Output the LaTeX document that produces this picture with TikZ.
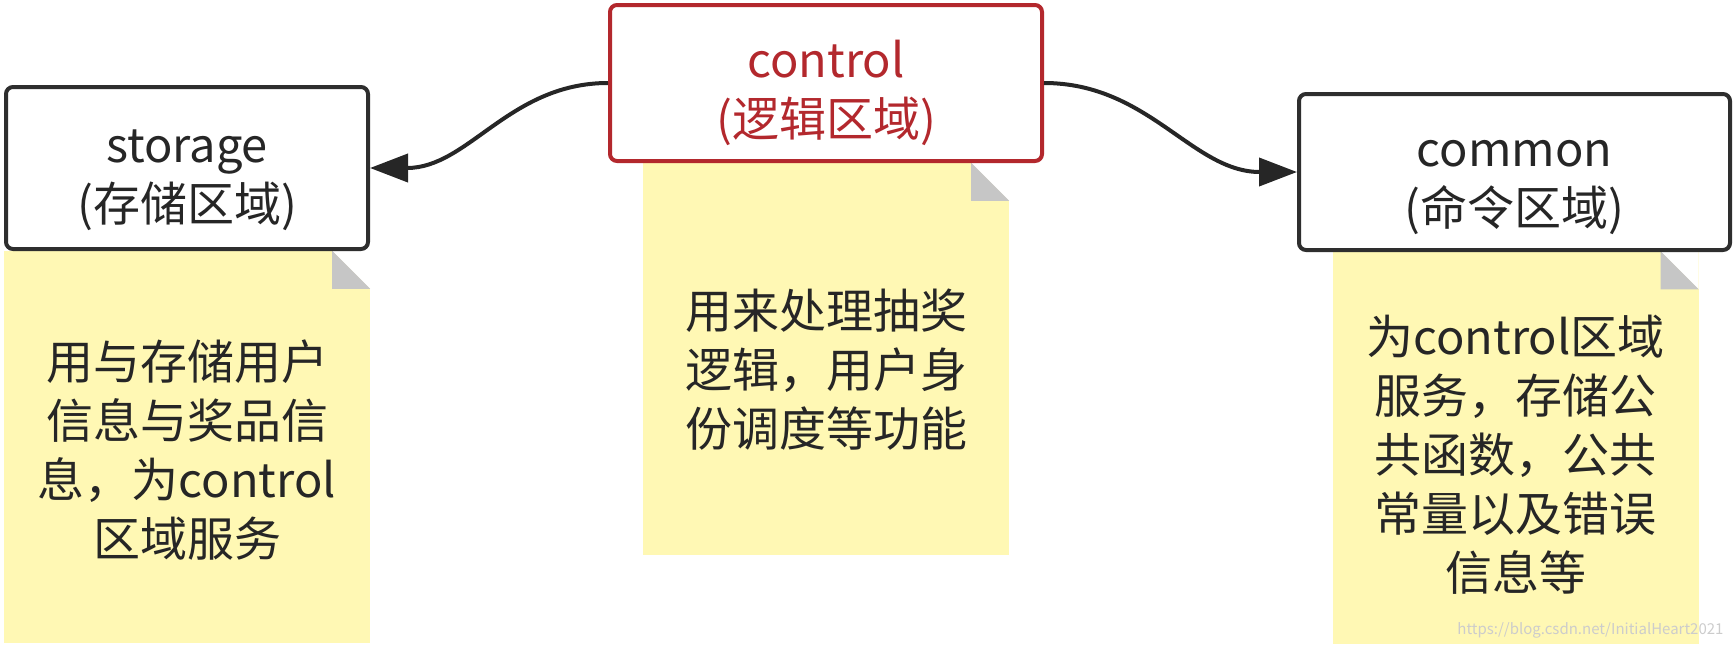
\documentclass[tikz,border=0pt]{standalone}
\usepackage{fontspec}
\setmainfont{Noto Sans CJK SC}
\usetikzlibrary{arrows.meta}
\definecolor{boxline}{HTML}{2E2E2E}
\definecolor{ctrlred}{HTML}{B3282D}
\definecolor{noteyellow}{HTML}{FFF8B4}
\definecolor{foldgray}{HTML}{C6C6C6}
\definecolor{inkgray}{HTML}{262626}
\newcommand{\dogear}[1]{%
  \fill[white] ([xshift=-38pt]#1.north east) -- (#1.north east) -- ([yshift=-38pt]#1.north east) -- cycle;
  \fill[foldgray] ([xshift=-38pt]#1.north east) -- ([xshift=-38pt,yshift=-38pt]#1.north east) -- ([yshift=-38pt]#1.north east) -- cycle;}

\begin{document}
\begin{tikzpicture}[x=1pt,y=-1pt,
  font=\fontsize{47}{59}\selectfont,
  area/.style={draw=boxline,line width=4pt,rounded corners=7pt,fill=white,text=inkgray,align=center,minimum width=362pt,minimum height=156pt,inner sep=0pt,text height=107pt,text depth=0pt},
  note/.style={fill=noteyellow,text=inkgray,align=center,minimum width=366pt,minimum height=392pt,inner sep=0pt,text depth=0pt},
  link/.style={draw=inkgray,line width=4pt,-{Triangle[length=38pt,width=28pt]}}]
\useasboundingbox (0,0) rectangle (1735,648);
% notes
\node[note,text height=218pt] (storagenote) at (187,447) {用与存储用户\\信息与奖品信\\息，为control\\区域服务};
\node[note,text height=174pt] (controlnote) at (826,359) {用来处理抽奖\\逻辑，用户身\\份调度等功能};
\node[note,text height=285pt] (commonnote) at (1515.5,447.5) {为control区域\\服务，存储公\\共函数，公共\\常量以及错误\\信息等};
\dogear{storagenote}
\dogear{controlnote}
\dogear{commonnote}
% regions
\node[area,minimum height=162pt] (storage) at (187,168) {storage\\(存储区域)};
\node[area,draw=ctrlred,text=ctrlred,minimum width=432pt] (control) at (826,83) {control\\(逻辑区域)};
\node[area,minimum width=431pt] (common) at (1514.5,172) {common\\(命令区域)};
% links
\draw[link] (control.west) to[out=180,in=0] (storage.east);
\draw[link] (control.east) to[out=0,in=180] (common.west);
\node[anchor=east,text=gray!40,font=\fontsize{15}{18}\selectfont] (mark) at (1727,630) {https://blog.csdn.net/InitialHeart2021};
\end{tikzpicture}
\end{document}
